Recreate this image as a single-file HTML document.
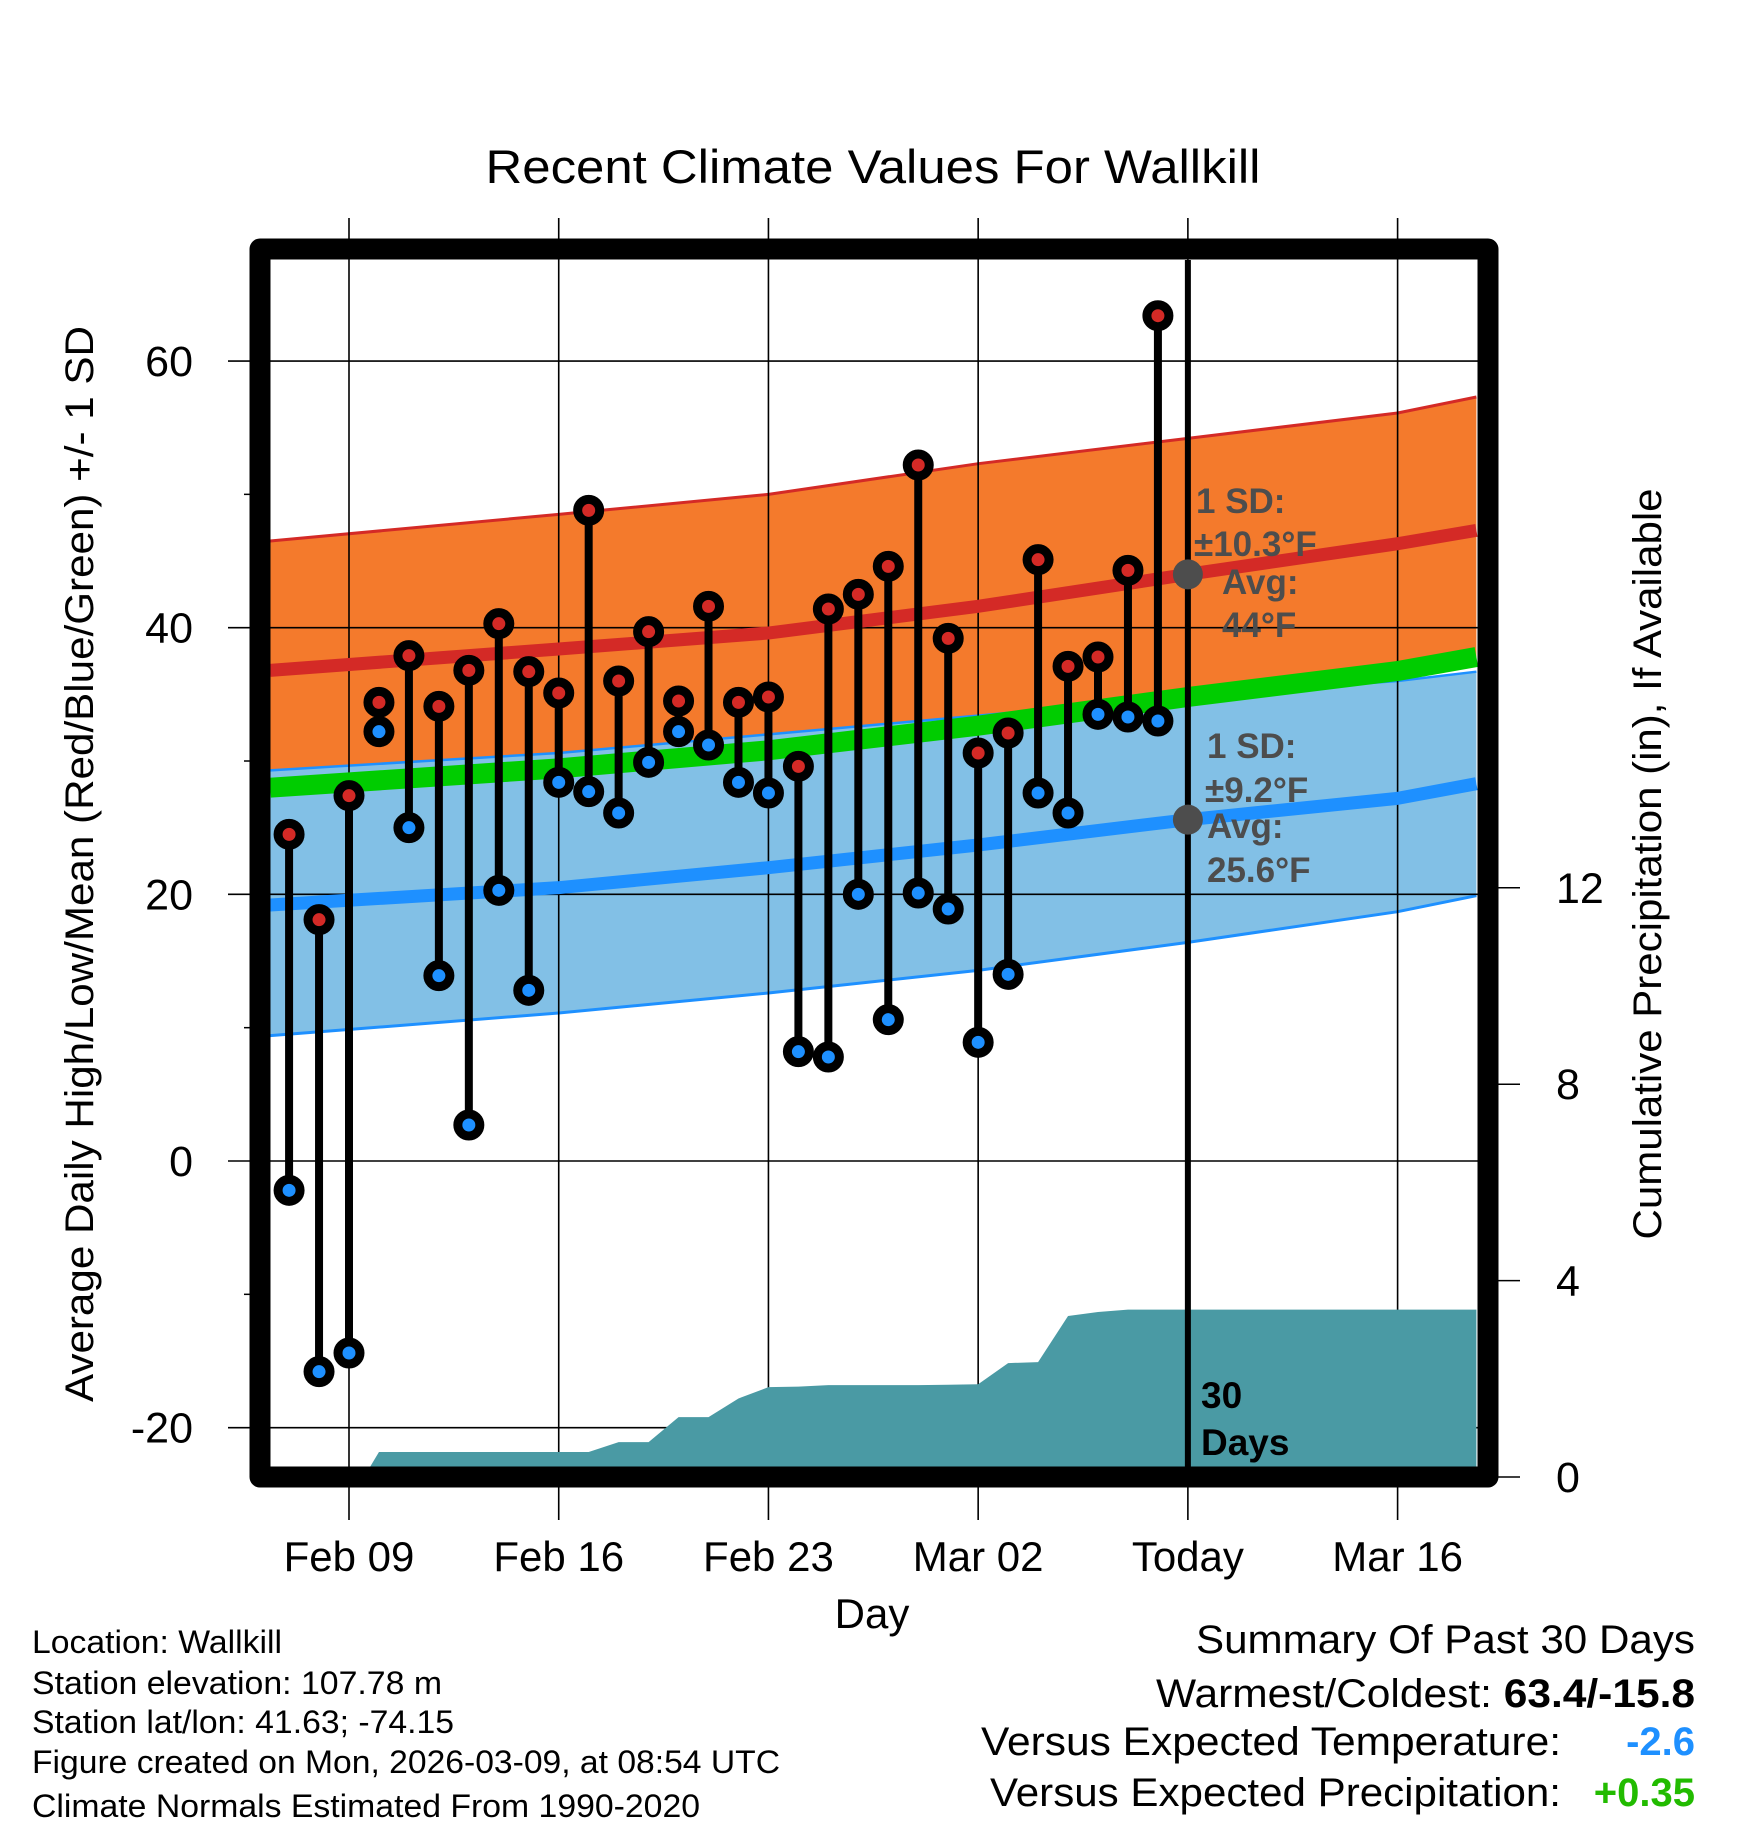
<!DOCTYPE html>
<html><head><meta charset="utf-8"><style>
html,body{margin:0;padding:0;background:#fff}
svg{display:block}
text{font-family:"Liberation Sans",sans-serif}
</style></head><body>
<svg id="chart" width="1748" height="1828" viewBox="0 0 1748 1828" xmlns="http://www.w3.org/2000/svg">
<text x="873" y="183" font-size="47" text-anchor="middle" textLength="775" lengthAdjust="spacingAndGlyphs">Recent Climate Values For Wallkill</text>
<g id="bands"></g>
<g id="grid"></g>
<g id="precip"></g>
<g id="lines"></g>
<g id="marks"></g>
<g id="annot">
<text font-weight="bold" font-size="35" fill="#4d4d4d"><tspan x="1196" y="513">1 SD:</tspan><tspan x="1194" y="556">±10.3°F</tspan><tspan x="1222" y="594">Avg:</tspan><tspan x="1222" y="637">44°F</tspan></text>
<text font-weight="bold" font-size="35" fill="#4d4d4d"><tspan x="1207" y="758">1 SD:</tspan><tspan x="1205" y="802">±9.2°F</tspan><tspan x="1207" y="838">Avg:</tspan><tspan x="1207" y="882">25.6°F</tspan></text>
<text font-weight="bold" font-size="37" fill="#000"><tspan x="1201" y="1408">30</tspan><tspan x="1201" y="1455">Days</tspan></text>
</g>
<path d="M260,249 H1488 V1477 H260 Z" fill="none" stroke="#000" stroke-width="21" stroke-linejoin="round"/>
<g id="axes"></g>
<text transform="translate(93,864) rotate(-90)" font-size="40" text-anchor="middle" textLength="1076" lengthAdjust="spacingAndGlyphs">Average Daily High/Low/Mean (Red/Blue/Green) +/- 1 SD</text>
<text transform="translate(1661,864) rotate(-90)" font-size="40" text-anchor="middle" textLength="751" lengthAdjust="spacingAndGlyphs">Cumulative Precipitation (in), If Available</text>
<text x="872" y="1628" font-size="42" text-anchor="middle">Day</text>
<g font-size="32">
<text x="32" y="1653" textLength="250" lengthAdjust="spacingAndGlyphs">Location: Wallkill</text>
<text x="32" y="1694" textLength="410" lengthAdjust="spacingAndGlyphs">Station elevation: 107.78 m</text>
<text x="32" y="1733" textLength="422" lengthAdjust="spacingAndGlyphs">Station lat/lon: 41.63; -74.15</text>
<text x="32" y="1773" textLength="748" lengthAdjust="spacingAndGlyphs">Figure created on Mon, 2026-03-09, at 08:54 UTC</text>
<text x="32" y="1817" textLength="668" lengthAdjust="spacingAndGlyphs">Climate Normals Estimated From 1990-2020</text>
</g>
<g font-size="40">
<text x="1695" y="1653" text-anchor="end" textLength="499" lengthAdjust="spacingAndGlyphs">Summary Of Past 30 Days</text>
<text x="1695" y="1707" text-anchor="end" textLength="539" lengthAdjust="spacingAndGlyphs">Warmest/Coldest: <tspan font-weight="bold">63.4/-15.8</tspan></text>
<text x="1561" y="1755" text-anchor="end" textLength="580" lengthAdjust="spacingAndGlyphs">Versus Expected Temperature:</text>
<text x="1695" y="1755" text-anchor="end" font-weight="bold" fill="#1e90ff">-2.6</text>
<text x="1561" y="1806" text-anchor="end" textLength="571" lengthAdjust="spacingAndGlyphs">Versus Expected Precipitation:</text>
<text x="1695" y="1806" text-anchor="end" font-weight="bold" fill="#22bb00">+0.35</text>
</g>
</svg>
<script>
// day offsets relative to Feb 09 (Feb 07 = -2 ... Mar 08 = 27)
const dayOffsets = [-2,-1,0,1,2,3,4,5,6,7,8,9,10,11,12,13,14,15,16,17,18,19,20,21,22,23,24,25,26,27];
const highs = [24.5,18.1,27.4,34.4,37.9,34.1,36.8,40.3,36.7,35.1,48.8,36.0,39.7,34.5,41.6,34.4,34.8,29.6,41.4,42.5,44.6,52.2,39.2,30.6,32.1,45.1,37.1,37.8,44.3,63.4];
const lows = [-2.2,-15.8,-14.4,32.2,25.0,13.9,2.7,20.3,12.8,28.4,27.7,26.1,29.9,32.2,31.2,28.4,27.6,8.2,7.8,20.0,10.6,20.1,18.9,8.9,14.0,27.6,26.1,33.5,33.3,33.0];
// normals knots (day offsets from Feb 09)
const normDays = [-2.63,7,14,21,28,35,37.63];
const highUpper = [46.5,48.5,50.0,52.3,54.2,56.1,57.3];
const highAvg = [36.8,38.4,39.6,41.6,44.0,46.3,47.3];
const lowUpper = [29.3,30.6,32.0,33.4,34.9,36.0,36.7];
const lowAvg = [19.2,20.5,22.0,23.7,25.6,27.2,28.3];
const lowLower = [9.4,11.1,12.6,14.3,16.4,18.7,19.9];
// cumulative precipitation
const precipDays = [0.5,1,2,3,4,5,6,7,8,9,10,11,12,13,14,15,16,17,18,19,20,21,22,23,24,25,26,27,37.63];
const precipCum = [0,0.51,0.51,0.51,0.51,0.51,0.51,0.51,0.51,0.71,0.71,1.22,1.22,1.6,1.83,1.84,1.87,1.87,1.87,1.87,1.88,1.89,2.32,2.34,3.28,3.36,3.41,3.41,3.41];
const yTicks = [-20,0,20,40,60];
const yMinor = [-10,10,30,50];
const y2Ticks = [0,4,8,12];
const xTickDays = [0,7,14,21,28,35];
const xTickLabels = ["Feb 09","Feb 16","Feb 23","Mar 02","Today","Mar 16"];
const todayOffset = 28;

const NS="http://www.w3.org/2000/svg";
const X0=270, X1=1478, Y0=260, Y1=1468;
function xs(d){return 349+29.96*d;}
function ys(v){return 1161-13.333*v;}
function yp(v){return 1477-49.1*v;}
function mk(tag,attrs,parent){const e=document.createElementNS(NS,tag);for(const k in attrs)e.setAttribute(k,attrs[k]);parent.appendChild(e);return e;}
const G=id=>document.getElementById(id);

// bands
function curve(arr){return normDays.map((d,i)=>[xs(d),ys(arr[i])]);}
function areaPath(top,bot){const t=curve(top),b=curve(bot).reverse();return "M"+t.map(p=>p.join(",")).join(" L")+" L"+b.map(p=>p.join(",")).join(" L")+"Z";}
const highLower = highAvg.map((v,i)=>v-(highUpper[i]-v));
let e=mk('path',{d:areaPath(highUpper,highLower),fill:'#f47a2c'},G('bands'));


e=mk('path',{d:areaPath(lowUpper,lowLower),fill:'#82c0e6'},G('bands'));


function lineP(arr){return "M"+curve(arr).map(p=>p.join(",")).join(" L");}
e=mk('path',{d:lineP(highUpper),fill:'none',stroke:'#d42a26','stroke-width':3},G('bands'));


e=mk('path',{d:lineP(lowUpper),fill:'none',stroke:'#1e90ff','stroke-width':2.5},G('bands'));


e=mk('path',{d:lineP(lowLower),fill:'none',stroke:'#1e90ff','stroke-width':3},G('bands'));


const meanArr = highAvg.map((v,i)=>(v+lowAvg[i])/2);

// grid
yTicks.forEach(v=>{
  const l=mk('line',{x1:228,x2:X1,y1:ys(v),y2:ys(v),stroke:'#000','stroke-width':1.6},G('grid'));
  
  
});
xTickDays.forEach(d=>{
  const l=mk('line',{x1:xs(d),x2:xs(d),y1:218,y2:1520,stroke:'#000','stroke-width':1.6},G('grid'));
  
  
});

// precip
const pp="M"+xs(precipDays[0])+","+yp(0)+" "+precipDays.map((d,i)=>"L"+xs(d)+","+yp(precipCum[i])).join(" ")+" L"+xs(precipDays[precipDays.length-1])+","+yp(0)+"Z";
e=mk('path',{d:pp,fill:'#4a9aa4'},G('precip'));



// normal lines
e=mk('path',{d:lineP(meanArr),fill:'none',stroke:'#00cc00','stroke-width':20},G('lines'));


e=mk('path',{d:lineP(highAvg),fill:'none',stroke:'#d42a26','stroke-width':13},G('lines'));


e=mk('path',{d:lineP(lowAvg),fill:'none',stroke:'#1e90ff','stroke-width':13},G('lines'));



// marks
dayOffsets.forEach((d,i)=>{
  const x=xs(d);
  const s=mk('line',{x1:x,x2:x,y1:ys(highs[i]),y2:ys(lows[i]),stroke:'#000','stroke-width':8},G('marks'));
  
  
});
dayOffsets.forEach((d,i)=>{
  const x=xs(d);
  const h=mk('circle',{cx:x,cy:ys(highs[i]),r:11,fill:'#d42a26',stroke:'#000','stroke-width':9},G('marks'));
  
  
  const l=mk('circle',{cx:x,cy:ys(lows[i]),r:11,fill:'#1e90ff',stroke:'#000','stroke-width':9},G('marks'));
  
  
});
// today line and dots
e=mk('line',{x1:xs(todayOffset),x2:xs(todayOffset),y1:Y0,y2:Y1,stroke:'#000','stroke-width':6},G('marks'));


e=mk('circle',{cx:xs(todayOffset),cy:ys(highAvg[4]),r:15,fill:'#4d4d4d'},G('marks'));


e=mk('circle',{cx:xs(todayOffset),cy:ys(lowAvg[4]),r:15,fill:'#4d4d4d'},G('marks'));



// axes labels
yTicks.forEach(v=>{
  const t=mk('text',{x:193,y:ys(v)+15,'font-size':43,'text-anchor':'end'},G('axes'));
  t.textContent=v;
  
  
});
yMinor.forEach(v=>{
  const l=mk('line',{x1:244,x2:252,y1:ys(v),y2:ys(v),stroke:'#000','stroke-width':1.5},G('axes'));
  
  
});
y2Ticks.forEach(v=>{
  const l=mk('line',{x1:1498,x2:1520,y1:yp(v),y2:yp(v),stroke:'#000','stroke-width':1.5},G('axes'));
  
  
  const t=mk('text',{x:1556,y:yp(v)+15,'font-size':43},G('axes'));
  t.textContent=v;
  
  
});
xTickDays.forEach((d,i)=>{
  const t=mk('text',{x:xs(d),y:1571,'font-size':42,'text-anchor':'middle'},G('axes'));
  t.textContent=xTickLabels[i];
  
  
});
</script>
</body></html>
